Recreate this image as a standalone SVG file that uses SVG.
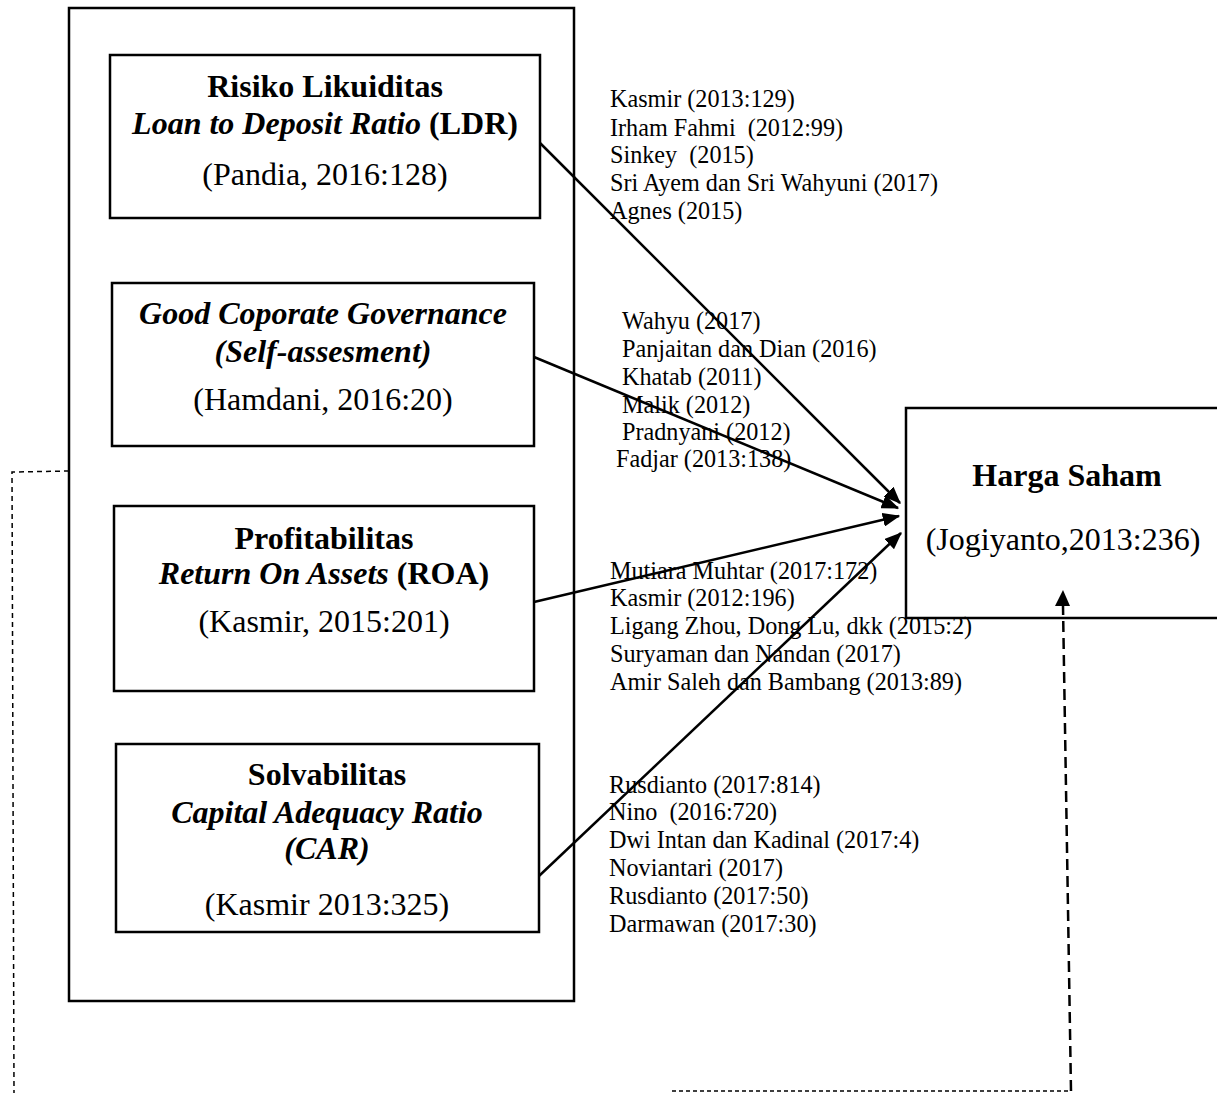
<svg xmlns="http://www.w3.org/2000/svg" width="1217" height="1093" viewBox="0 0 1217 1093">
<style>
text{font-family:"Liberation Serif","Times New Roman",serif;fill:#000}
.t{font-size:32px;text-anchor:middle}
.b{font-weight:bold}
.i{font-style:italic}
.s{font-size:24.2px}
.box{fill:#fff;stroke:#000;stroke-width:2.5}
.con{stroke:#000;stroke-width:2.5;fill:none}
</style>
<defs>
<marker id="ah" markerWidth="7" markerHeight="5.6" refX="6.5" refY="2.8" orient="auto" markerUnits="strokeWidth">
<path d="M0,0 L7,2.8 L0,5.6 Z" fill="#000"/>
</marker>
</defs>
<rect width="1217" height="1093" fill="#fff"/>
<g id="outer-group"><rect x="69" y="8" width="505" height="993" fill="none" stroke="#000" stroke-width="2.5"/></g>
<g id="node-ldr">
<rect class="box" x="110" y="55" width="430" height="163"/>
<text class="t b" x="325" y="97">Risiko Likuiditas</text>
<text class="t" x="325" y="134"><tspan class="b i">Loan to Deposit Ratio</tspan><tspan class="b"> (LDR)</tspan></text>
<text class="t" x="325" y="185">(Pandia, 2016:128)</text>
</g>
<g id="node-gcg">
<rect class="box" x="112" y="283" width="422" height="163"/>
<text class="t b i" x="323" y="324">Good Coporate Governance</text>
<text class="t b i" x="323" y="362">(Self-assesment)</text>
<text class="t" x="323" y="410">(Hamdani, 2016:20)</text>
</g>
<g id="node-roa">
<rect class="box" x="114" y="506" width="420" height="185"/>
<text class="t b" x="324" y="549">Profitabilitas</text>
<text class="t" x="324" y="584"><tspan class="b i">Return On Assets</tspan><tspan class="b"> (ROA)</tspan></text>
<text class="t" x="324" y="632">(Kasmir, 2015:201)</text>
</g>
<g id="node-car">
<rect class="box" x="116" y="744" width="423" height="188"/>
<text class="t b" x="327" y="785">Solvabilitas</text>
<text class="t b i" x="327" y="823">Capital Adequacy Ratio</text>
<text class="t b i" x="327" y="859">(CAR)</text>
<text class="t" x="327" y="915">(Kasmir 2013:325)</text>
</g>
<g id="node-harga">
<path d="M1220,408 H906 V618 H1220" fill="#fff" stroke="#000" stroke-width="2.5"/>
<text class="t b" x="1067" y="486">Harga Saham</text>
<text class="t" x="1063" y="550">(Jogiyanto,2013:236)</text>
</g>
<g id="connectors">
<line class="con" x1="540" y1="143" x2="900" y2="503" marker-end="url(#ah)"/>
<line class="con" x1="534" y1="357" x2="898" y2="508" marker-end="url(#ah)"/>
<line class="con" x1="534" y1="602" x2="899" y2="516" marker-end="url(#ah)"/>
<line class="con" x1="539" y1="876" x2="901" y2="533" marker-end="url(#ah)"/>
<polyline points="69,471 12,472 14,1093" fill="none" stroke="#000" stroke-width="1.5" stroke-dasharray="5 4"/>
<line x1="672" y1="1091" x2="1071" y2="1091" stroke="#000" stroke-width="1.5" stroke-dasharray="4 3"/>
<line x1="1071" y1="1091" x2="1063" y2="606" stroke="#000" stroke-width="2.5" stroke-dasharray="11 6"/>
<path d="M1063,590 L1070,606 L1055,606 Z" fill="#000"/>
</g>
<g id="labels">
<text class="s" x="610" y="107">Kasmir (2013:129)</text>
<text class="s" x="610" y="136" xml:space="preserve">Irham Fahmi  (2012:99)</text>
<text class="s" x="610" y="163" xml:space="preserve">Sinkey  (2015)</text>
<text class="s" x="610" y="191">Sri Ayem dan Sri Wahyuni (2017)</text>
<text class="s" x="610" y="219">Agnes (2015)</text>
<text class="s" x="622" y="329">Wahyu (2017)</text>
<text class="s" x="622" y="357">Panjaitan dan Dian (2016)</text>
<text class="s" x="622" y="385">Khatab (2011)</text>
<text class="s" x="622" y="413">Malik (2012)</text>
<text class="s" x="622" y="440">Pradnyani (2012)</text>
<text class="s" x="616" y="467">Fadjar (2013:138)</text>
<text class="s" x="610" y="579">Mutiara Muhtar (2017:172)</text>
<text class="s" x="610" y="606">Kasmir (2012:196)</text>
<text class="s" x="610" y="634">Ligang Zhou, Dong Lu, dkk (2015:2)</text>
<text class="s" x="610" y="662">Suryaman dan Nandan (2017)</text>
<text class="s" x="610" y="690">Amir Saleh dan Bambang (2013:89)</text>
<text class="s" x="609" y="793">Rusdianto (2017:814)</text>
<text class="s" x="609" y="820" xml:space="preserve">Nino  (2016:720)</text>
<text class="s" x="609" y="848">Dwi Intan dan Kadinal (2017:4)</text>
<text class="s" x="609" y="876">Noviantari (2017)</text>
<text class="s" x="609" y="904">Rusdianto (2017:50)</text>
<text class="s" x="609" y="932">Darmawan (2017:30)</text>
</g>
</svg>
